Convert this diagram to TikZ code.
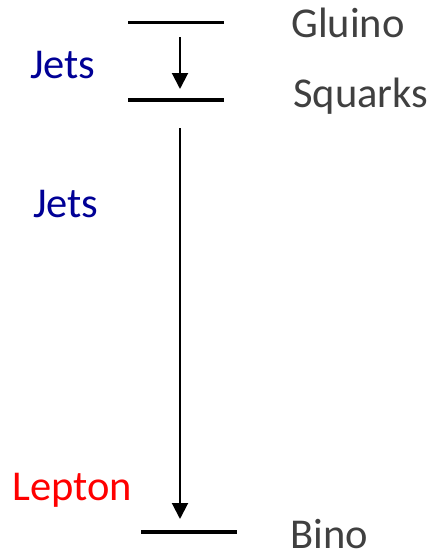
\documentclass[tikz,border=0pt]{standalone}
\usepackage{fontspec}
\setmainfont{Carlito}
\usetikzlibrary{arrows.meta}
\definecolor{jetblue}{RGB}{0,0,150}
\definecolor{levelgray}{RGB}{64,64,64}
\tikzset{
    level/.style={line width=3.5pt},
    decay/.style={line width=2pt, -{Triangle[width=16pt,length=16pt]}},
    label/.style={anchor=base west, inner sep=0pt, font=\fontsize{42.5}{50}\selectfont},
}
\begin{document}
\begin{tikzpicture}[x=1pt, y=-1pt]
    \useasboundingbox (0,0) rectangle (433,558);
    % mass levels
    \draw[level] (128,22.5) -- (224,22.5);
    \draw[level] (128,100) -- (224,100);
    \draw[level] (141,532) -- (237,532);
    \node[label, color=levelgray] (gluino) at (291,37) {Gluino};
    \node[label, color=levelgray] (squarks) at (293,107) {Squarks};
    \node[label, color=levelgray] (bino) at (290,548) {Bino};
    % decays
    \coordinate (gtop) at (180,37);
    \coordinate (gbot) at (180,89);
    \coordinate (stop) at (180,128);
    \coordinate (sbot) at (180,519);
    \draw[decay] (gtop) -- (gbot);
    \draw[decay] (stop) -- (sbot);
    \node[label, color=jetblue] (jetsA) at (30,78) {Jets};
    \node[label, color=jetblue] (jetsB) at (33,217) {Jets};
    \node[label, color=red] (lepton) at (12,500) {Lepton};
\end{tikzpicture}
\end{document}
